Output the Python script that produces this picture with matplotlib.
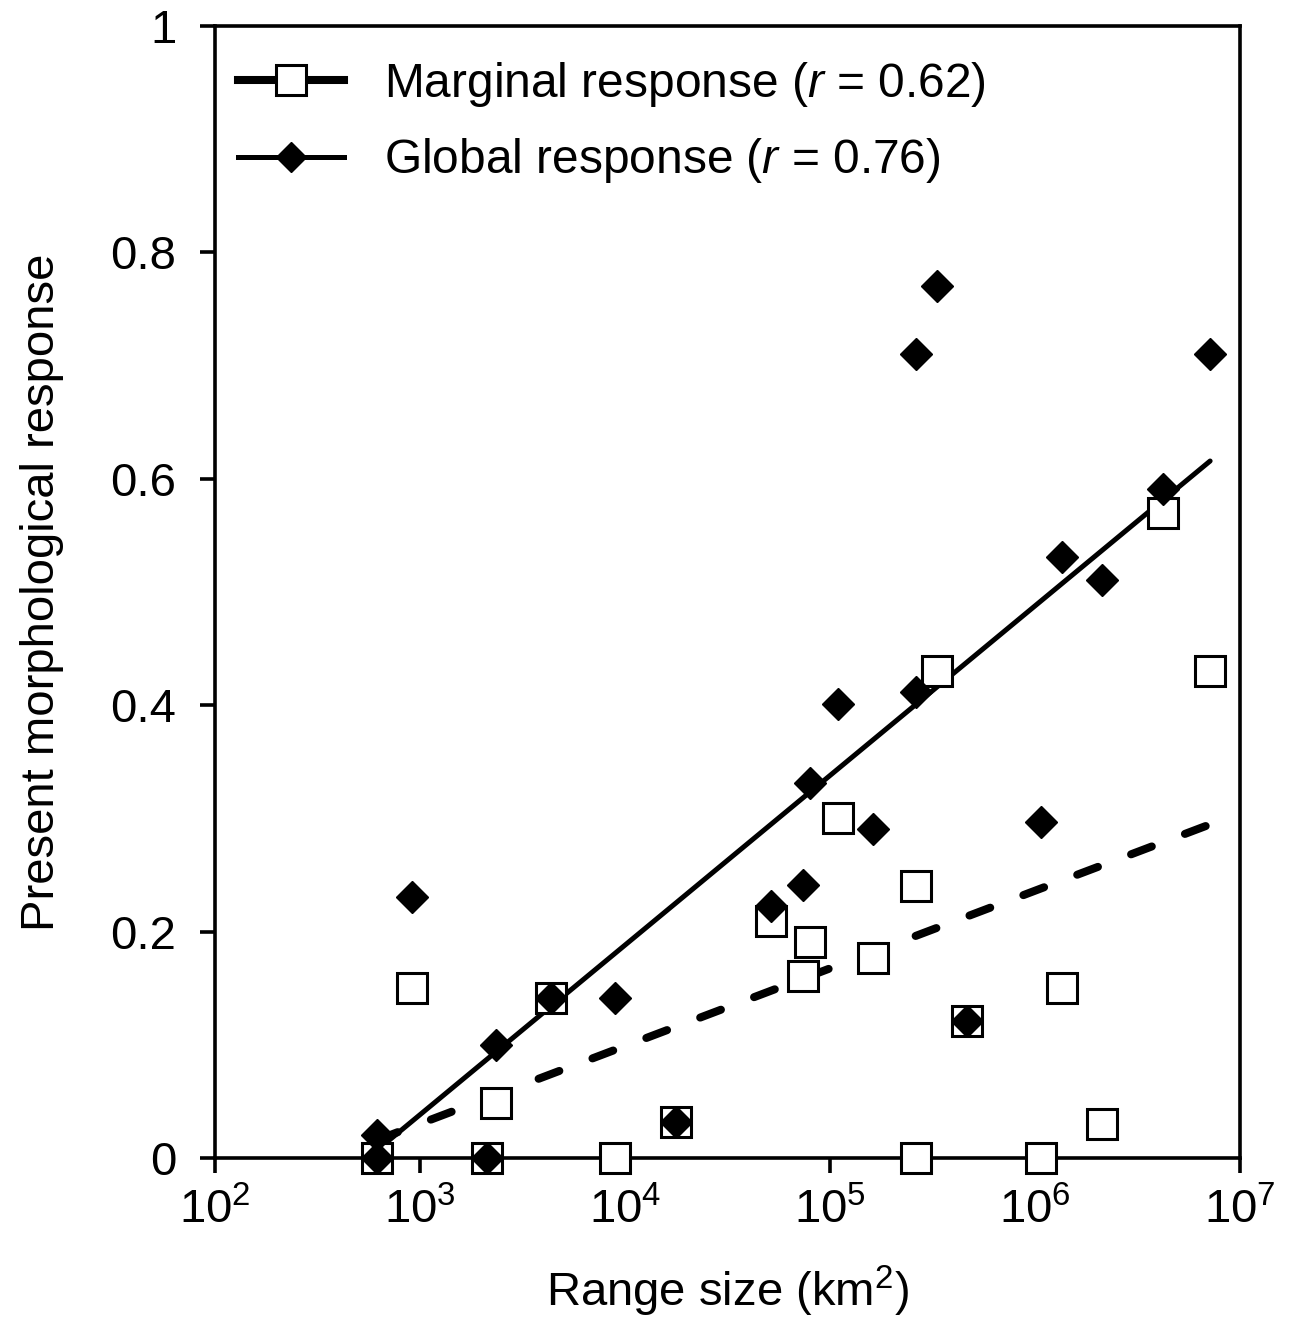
import numpy as np
import matplotlib.pyplot as plt
from matplotlib.lines import Line2D
from matplotlib.ticker import FixedLocator, FuncFormatter, NullLocator

plt.rcParams['font.family'] = ['Liberation Sans', 'DejaVu Sans']
plt.rcParams['mathtext.fontset'] = 'custom'
plt.rcParams['mathtext.rm'] = 'Liberation Sans'
plt.rcParams['mathtext.it'] = 'Liberation Sans:italic'

# глобальный ответ (ромбы)
glob_x = [617, 617, 914, 2120, 2350, 4350, 8930, 17700, 51500, 73800, 79800,
          109000, 162000, 263000, 263000, 333000, 466000, 1070000, 1355000,
          2120000, 4210000, 7150000]
glob_y = [0.020, 0.0, 0.231, 0.0, 0.100, 0.141, 0.141, 0.032, 0.223, 0.241, 0.331,
          0.401, 0.291, 0.710, 0.412, 0.770, 0.121, 0.297, 0.531,
          0.511, 0.591, 0.710]

# маргинальный ответ (квадраты)
marg_x = [617, 914, 2120, 2350, 4350, 8930, 17700, 51500, 73800, 79800,
          109000, 162000, 263000, 263000, 333000, 466000, 1070000, 1355000,
          2120000, 4210000, 7150000]
marg_y = [0.0, 0.150, 0.0, 0.049, 0.141, 0.0, 0.032, 0.209, 0.161, 0.191,
          0.300, 0.177, 0.0, 0.240, 0.430, 0.121, 0.0, 0.150,
          0.030, 0.570, 0.430]

fig = plt.figure(figsize=(12.93, 13.21), dpi=100)
ax = fig.add_axes([0.1663, 0.1234, 0.7927, 0.8569])

# линии тренда по log10(x)
xx = np.array([min(glob_x), max(glob_x)])
kg, bg = np.polyfit(np.log10(glob_x), glob_y, 1)
km, bm = np.polyfit(np.log10(marg_x), marg_y, 1)

ax.plot(xx, kg * np.log10(xx) + bg, color='black', lw=3.6, solid_capstyle='round', zorder=2)
ax.plot(xx, km * np.log10(xx) + bm, color='black', lw=5.8, dashes=(2.75, 4.4),
        dash_capstyle='round', zorder=2)

ax.plot(marg_x, marg_y, ls='none', marker='s', ms=21, mfc='white', mec='black',
        mew=2.2, zorder=3, clip_on=False)
ax.plot(glob_x, glob_y, ls='none', marker='D', ms=16, mfc='black', mec='black',
        mew=1, zorder=4, clip_on=False)

ax.set_xscale('log')
ax.set_xlim(1e2, 1e7)
ax.set_ylim(0, 1)
ax.xaxis.set_major_locator(FixedLocator([1e2, 1e3, 1e4, 1e5, 1e6, 1e7]))
ax.xaxis.set_minor_locator(NullLocator())
ax.xaxis.set_major_formatter(FuncFormatter(lambda v, p: '$10^{%d}$' % round(np.log10(v))))
ax.set_yticks([0, 0.2, 0.4, 0.6, 0.8, 1])
ax.set_yticklabels(['0', '0.2', '0.4', '0.6', '0.8', '1'])

for s in ax.spines.values():
    s.set_linewidth(2.6)
ax.tick_params(axis='both', direction='out', length=11, width=2.6, labelsize=34)
ax.tick_params(axis='y', pad=17)
ax.tick_params(axis='x', pad=11)

ax.set_xlabel('Range size (km$^2$)', fontsize=34, labelpad=22)
ax.set_ylabel('Present morphological response', fontsize=34, labelpad=33)

h1 = Line2D([0], [0], color='black', lw=5.8, marker='s', ms=21, mfc='white', mec='black', mew=2.2)
h2 = Line2D([0], [0], color='black', lw=3.6, marker='D', ms=15, mfc='black', mec='black')
ax.legend([h1, h2], ['Marginal response ($r$ = 0.62)', 'Global response ($r$ = 0.76)'],
          loc='upper left', bbox_to_anchor=(-0.01, 1.0), frameon=False, fontsize=34.5,
          handlelength=2.2, handletextpad=0.85, labelspacing=0.58, borderaxespad=0.3)

plt.savefig('out.png', dpi=100)
